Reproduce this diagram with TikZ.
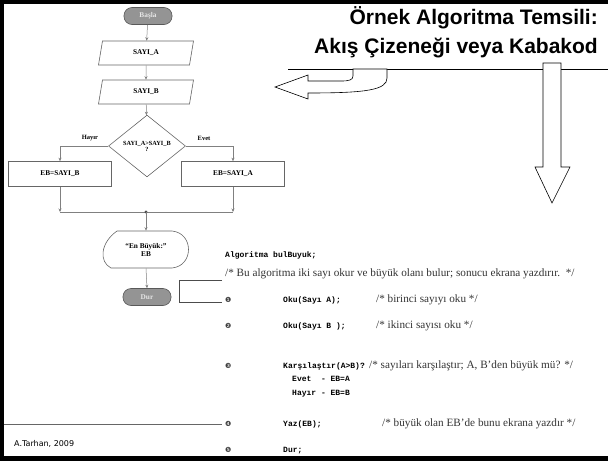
\documentclass[tikz,border=0pt]{standalone}
\usepackage{fontspec}
\setmainfont{Liberation Serif}
\newfontfamily\titlefont{Liberation Sans}
\newfontfamily\codefont{Liberation Mono}
\newfontfamily\symfont{DejaVu Sans}
\newfontfamily\notefont{DejaVu Sans}
\usetikzlibrary{arrows.meta,shapes.geometric,positioning}

\tikzset{
  liu/.style={draw=black!50,line width=0.5pt,-{Stealth[length=3.5pt,width=3pt]}},
  duan/.style={draw=black!50,line width=0.5pt},
  kuang/.style={draw=black!60,line width=0.6pt,inner sep=1pt,
    font=\bfseries\fontsize{7.3}{8}\selectfont},
  zhongduan/.style={kuang,rounded corners=8pt,fill=black!42,draw=black!65,
    text=black!10,minimum width=48pt,minimum height=17pt},
  shuru/.style={kuang,trapezium,trapezium left angle=63,trapezium right angle=117,
    trapezium stretches body,minimum width=95pt,minimum height=24pt},
  panduan/.style={kuang,diamond,minimum width=77pt,minimum height=47pt,align=center,
    font=\bfseries\fontsize{6.3}{7}\selectfont},
  fuzhi/.style={kuang,rectangle,minimum width=103pt,minimum height=25pt},
  biaoqian/.style={font=\bfseries\fontsize{6.5}{7}\selectfont,inner sep=1pt},
  dai/.style={font=\codefont\bfseries\fontsize{8}{9}\selectfont,anchor=base west,inner sep=0pt},
  zhushi/.style={font=\fontsize{11.2}{12}\selectfont,text=black!80,anchor=base west,inner sep=0pt},
  hao/.style={font=\symfont\fontsize{7}{8}\selectfont,text=black!75,anchor=base west,inner sep=0pt},
  jiantou/.style={draw=black,line width=0.6pt,fill=white}
}

\begin{document}
\begin{tikzpicture}[x=1pt,y=-1pt]
  % 画布：608 x 461
  \useasboundingbox (0,0) rectangle (608,461);
  \clip (0,0) rectangle (608,461);

  % 标题
  \node[font=\titlefont\bfseries\fontsize{21}{29}\selectfont,align=right,
        anchor=north east,inner sep=0pt] (biaoti) at (598,6)
        {Örnek Algoritma Temsili:\\Akış Çizeneği veya Kabakod};

  % 标题下横线
  \draw[line width=0.6pt] (288,69) -- (608,69);

  % 弯箭头（指向流程图）
  \draw[jiantou] (353,69) -- (353,76) .. controls (353,80) and (349,81) .. (341,81)
    -- (308,81) -- (308,75) -- (275,87) -- (308,99) -- (308,93)
    .. controls (366,93) and (387,90) .. (387,78) -- (387,69) -- cycle;

  % 竖箭头（指向伪代码）
  \draw[jiantou] (543,63) -- (561,63) -- (561,167) -- (570,167) -- (552,203)
    -- (535,167) -- (543,167) -- cycle;

  % ---------------- 流程图 ----------------
  \node[zhongduan] (basla) at (148,16) {Başla};
  \node[shuru] (sayiA) at (146,53) {SAYI\_A};
  \node[shuru] (sayiB) at (146,92) {SAYI\_B};
  \node[panduan] (karar) at (147,146) {SAYI\_A>SAYI\_B\\[-1pt]?};
  \node[fuzhi] (ebB) at (60,174) {EB=SAYI\_B};
  \node[fuzhi] (ebA) at (233,174) {EB=SAYI\_A};
  \node[kuang,draw=none,align=center,minimum width=72pt,minimum height=37pt]
    (goster) at (146,249.5) {“En Büyük:”\\EB};
  \node[zhongduan] (dur) at (147,297) {Dur};

  % 显示框外形
  \draw[draw=black!60,line width=0.6pt] (117,231) -- (172,231)
    .. controls (194,233) and (194,266) .. (172,268) -- (111,268)
    .. controls (99,262) and (100,243) .. (117,231) -- cycle;

  % 连线
  \draw[liu] (basla) -- (sayiA);
  \draw[liu] (sayiA) -- (sayiB);
  \draw[liu] (sayiB) -- (karar);
  \draw[liu] (karar.west) -| (ebB.north);
  \draw[liu] (karar.east) -| (ebA.north);
  \node[biaoqian] (hayir) at (90,138) {Hayır};
  \node[biaoqian] (evet) at (204,138) {Evet};

  % 汇合点
  \coordinate (hui) at (146,212);
  \draw[liu] (ebB.south) -- (ebB.south |- hui);
  \draw[liu] (ebA.south) -- (ebA.south |- hui);
  \draw[duan] (ebB.south |- hui) -- (ebA.south |- hui);
  \fill[black!70] (hui) circle (1.6);
  \draw[liu] (hui) -- (goster.north);
  \draw[liu] (goster.south) -- (dur.north);

  % ---------------- 伪代码 ----------------
  \node[dai] (baslik) at (225,257) {Algoritma bulBuyuk;};
  \node[zhushi] (aciklama) at (225,276)
    {/* Bu algoritma iki sayı okur ve büyük olanı bulur; sonucu ekrana yazdırır.\ \ */};

  % 括号
  \draw[black!70,line width=0.6pt] (222,280) -- (179,280) -- (179,302) -- (222,302);

  % 1
  \node[hao] (h1) at (225,302) {❶};
  \node[dai] (s1) at (283,302) {Oku(Sayı A);};
  \node[zhushi] (z1) at (376,302) {/* birinci sayıyı oku */};

  % 2
  \node[hao] (h2) at (225,328) {❷};
  \node[dai] (s2) at (283,328) {Oku(Sayı B );};
  \node[zhushi] (z2) at (376,328) {/* ikinci sayısı oku */};

  % 3
  \node[hao] (h3) at (225,368) {❸};
  \node[dai] (s3) at (283,368) {Karşılaştır(A>B)?};
  \node[zhushi] (z3) at (369,368) {/* sayıları karşılaştır; A, B'den büyük mü? */};
  \node[dai] (s3a) at (292,381) {Evet\ \ - EB=A};
  \node[dai] (s3b) at (292,395) {Hayır - EB=B};

  % 4
  \node[hao] (h4) at (225,426) {❹};
  \node[dai] (s4) at (283,426) {Yaz(EB);};
  \node[zhushi] (z4) at (382,426) {/* büyük olan EB'de bunu ekrana yazdır */};

  % 5
  \node[hao] (h5) at (225,452) {❺};
  \node[dai] (s5) at (283,452) {Dur;};

  % 页脚
  \draw[black!60,line width=0.6pt] (3,424) -- (222,424);
  \node[font=\notefont\fontsize{8}{9}\selectfont,anchor=base west,inner sep=0pt]
    (yazar) at (14,446) {A.Tarhan, 2009};

  % 外边框
  \draw[line width=4pt] (0,2) -- (608,2);
  \draw[line width=4pt] (2,0) -- (2,461);
  \draw[line width=5pt] (0,458.5) -- (608,458.5);
\end{tikzpicture}
\end{document}
